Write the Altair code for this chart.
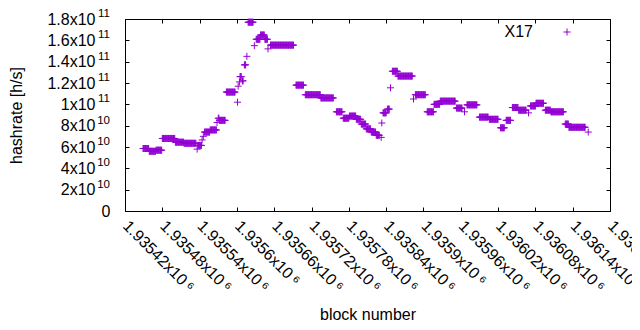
import altair as alt
import pandas as pd

series_name = "X17"
color = "#9400d3"

# step segments: first block, last block, hashrate [h/s]
seg_start = [1935449, 1935459, 1935470, 1935480, 1935501, 1935515, 1935536, 1935537, 1935544, 1935546,
             1935548, 1935557, 1935568, 1935570, 1935572, 1935583, 1935601, 1935602, 1935604, 1935605,
             1935609, 1935612, 1935616, 1935618, 1935628, 1935631, 1935638, 1935645, 1935650, 1935654,
             1935695, 1935710, 1935735, 1935760, 1935771, 1935781, 1935792, 1935800, 1935808, 1935816,
             1935824, 1935832, 1935833, 1935835, 1935842, 1935847, 1935850, 1935859, 1935884, 1935887,
             1935906, 1935917, 1935927, 1935953, 1935966, 1935970, 1935990, 1936006, 1936024, 1936033,
             1936043, 1936053, 1936069, 1936072, 1936081, 1936096, 1936105, 1936128, 1936134, 1936165]
seg_end = [1935458, 1935469, 1935479, 1935500, 1935514, 1935534, 1935536, 1935543, 1935544, 1935546,
           1935556, 1935567, 1935568, 1935571, 1935581, 1935597, 1935601, 1935602, 1935604, 1935607,
           1935610, 1935614, 1935616, 1935626, 1935628, 1935637, 1935644, 1935649, 1935650, 1935691,
           1935707, 1935734, 1935755, 1935769, 1935780, 1935791, 1935799, 1935807, 1935815, 1935823,
           1935829, 1935832, 1935833, 1935840, 1935845, 1935847, 1935858, 1935882, 1935884, 1935903,
           1935916, 1935926, 1935951, 1935962, 1935966, 1935986, 1936004, 1936020, 1936030, 1936040,
           1936052, 1936065, 1936069, 1936080, 1936093, 1936104, 1936125, 1936133, 1936160, 1936165]
seg_rate = [5.86e10, 5.60e10, 5.70e10, 6.80e10, 6.45e10, 6.35e10, 5.80e10, 6.15e10, 6.66e10, 7.00e10,
            7.40e10, 7.60e10, 8.30e10, 8.70e10, 8.50e10, 1.115e11, 1.02e11, 1.17e11, 1.21e11, 1.26e11,
            1.22e11, 1.37e11, 1.45e11, 1.77e11, 1.55e11, 1.61e11, 1.65e11, 1.61e11, 1.52e11, 1.555e11,
            1.18e11, 1.09e11, 1.06e11, 9.30e10, 8.70e10, 8.90e10, 8.60e10, 8.15e10, 7.70e10, 7.40e10,
            7.10e10, 6.90e10, 8.25e10, 9.20e10, 9.55e10, 1.155e11, 1.31e11, 1.265e11, 1.05e11, 1.09e11,
            9.30e10, 1.00e11, 1.03e11, 9.65e10, 9.30e10, 9.95e10, 8.80e10, 8.60e10, 7.80e10, 8.50e10,
            9.70e10, 9.45e10, 9.20e10, 9.85e10, 1.01e11, 9.45e10, 9.30e10, 8.15e10, 7.85e10, 7.40e10]

x_ticks = [1935420, 1935480, 1935540, 1935600, 1935660, 1935720, 1935780,
           1935840, 1935900, 1935960, 1936020, 1936080, 1936140, 1936200]
x_tick_labels = ["1.93542x10\u2009⁶", "1.93548x10\u2009⁶", "1.93554x10\u2009⁶", "1.9356x10\u2009⁶",
                 "1.93566x10\u2009⁶", "1.93572x10\u2009⁶", "1.93578x10\u2009⁶", "1.93584x10\u2009⁶",
                 "1.9359x10\u2009⁶", "1.93596x10\u2009⁶", "1.93602x10\u2009⁶", "1.93608x10\u2009⁶",
                 "1.93614x10\u2009⁶", "1.9362x10\u2009⁶"]
y_ticks = [0, 20000000000, 40000000000, 60000000000, 80000000000, 100000000000,
           120000000000, 140000000000, 160000000000, 180000000000]
y_tick_labels = ["0", "2x10", "4x10", "6x10", "8x10", "1x10", "1.2x10", "1.4x10", "1.6x10", "1.8x10"]
y_tick_exponents = ["", "10", "10", "10", "10", "11", "11", "11", "11", "11"]

rows = []
for s, e, v in zip(seg_start, seg_end, seg_rate):
    for b in range(s, e + 1):
        rows.append({"block": b, "hashrate": v})
df = pd.DataFrame(rows)
legend_df = pd.DataFrame({"label": [series_name]})
exp_df = pd.DataFrame({"value": y_ticks, "exp": y_tick_exponents})


def label_expr(values, labels):
    expr = "''"
    for v, l in reversed(list(zip(values, labels))):
        expr = f"datum.value == {v} ? '{l}' : ({expr})"
    return expr


PLUS = "M-1,0L1,0M0,-1L0,1"
FONT = "Liberation Sans"

xscale = alt.Scale(domain=[1935420, 1936200], nice=False, zero=False)
yscale = alt.Scale(domain=[0, 180000000000], nice=False, zero=False)

points = alt.Chart(df).mark_point(shape=PLUS, filled=False, size=49, strokeWidth=1,
                                  color=color, opacity=1).encode(
    x=alt.X("block:Q", scale=xscale, axis=alt.Axis(
        orient="bottom", values=x_ticks, labelExpr=label_expr(x_ticks, x_tick_labels),
        labelAngle=45, labelAlign="left", labelBaseline="middle", labelPadding=12,
        tickSize=4, offset=-4, domain=False, grid=False, title="block number",
        titlePadding=12, labelOverlap=False, labelFlush=False, labelBound=False)),
    y=alt.Y("hashrate:Q", scale=yscale, axis=alt.Axis(
        orient="left", values=y_ticks, labelExpr=label_expr(y_ticks, y_tick_labels),
        labelPadding={"condition": {"test": "datum.value == 0", "value": 15}, "value": 30},
        tickSize=4, offset=-4, domain=False, grid=False,
        title="hashrate [h/s]", titlePadding=22, labelOverlap=False, labelFlush=False)),
)

mirror = alt.Chart(df).mark_point(opacity=0, size=1).encode(
    x=alt.X("block:Q", scale=xscale, axis=alt.Axis(
        orient="top", values=x_ticks, labels=False, tickSize=4, offset=-4,
        domain=False, grid=False, title=None)),
    y=alt.Y("hashrate:Q", scale=yscale, axis=alt.Axis(
        orient="right", values=y_ticks, labels=False, tickSize=4, offset=-4,
        domain=False, grid=False, title=None)),
)

exponents = alt.Chart(exp_df).mark_text(
    align="right", baseline="middle", dy=-5, fontSize=11.5, font=FONT, color="black").encode(
    y=alt.Y("value:Q", scale=yscale, axis=None),
    x=alt.value(-15),
    text="exp:N",
)

legend_text = alt.Chart(legend_df).mark_text(
    align="right", baseline="middle", fontSize=16, font=FONT, color="black").encode(
    x=alt.value(408), y=alt.value(13), text="label:N")
legend_pt = alt.Chart(legend_df).mark_point(
    shape=PLUS, filled=False, size=49, strokeWidth=1, color=color, opacity=1).encode(
    x=alt.value(442), y=alt.value(13))

chart = alt.layer(points, mirror, exponents, legend_text, legend_pt).resolve_axis(
    x="independent", y="independent"
).properties(
    width=485, height=192,
    autosize=alt.AutoSizeParams(type="none"),
    padding={"left": 117, "top": 11, "right": 22, "bottom": 111},
).configure_view(stroke="black", strokeWidth=1).configure_axis(
    labelFont=FONT, titleFont=FONT, labelFontSize=16, titleFontSize=16,
    labelColor="black", titleColor="black", tickColor="black", tickWidth=1,
    titleFontWeight="normal",
)

chart.save("out.html", embed_options={"renderer": "svg", "actions": False})
